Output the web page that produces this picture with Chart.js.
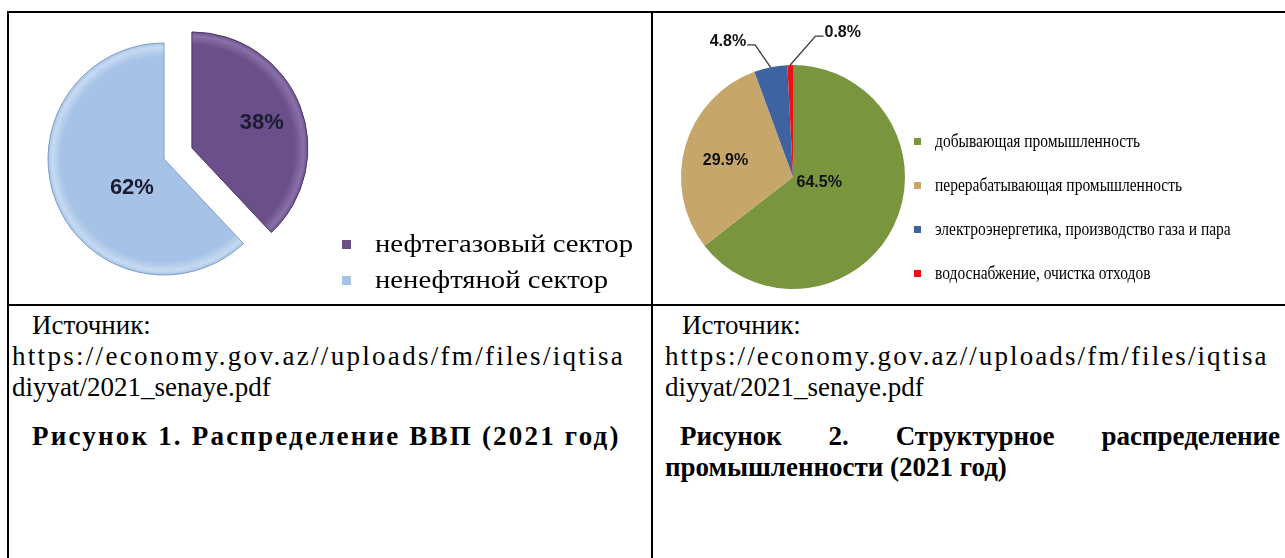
<!DOCTYPE html>
<html lang="ru">
<head>
<meta charset="utf-8">
<script src="https://cdn.jsdelivr.net/npm/chart.js@4.4.1/dist/chart.umd.min.js"></script>
<style>
  body { margin: 0; width: 1285px; height: 558px; background: #fff; position: relative; overflow: hidden;
         font-family: "Liberation Serif", "Times New Roman", serif; color: #000; }
  .ln { position: absolute; background: #000; }
  canvas { position: absolute; }
  .legend { position: absolute; white-space: nowrap; }
  .legend .row { position: relative; }
  .legend .sw { position: absolute; top: 50%; }
  .legend .t { display: inline-block; transform-origin: 0 50%; }
  .txt { position: absolute; font-size: 27px; line-height: 31px; white-space: nowrap; }
  .txt b { display: block; }
  .just { text-align: justify; text-align-last: justify; }
</style>
</head>
<body>

<!-- table grid -->
<div class="ln" style="left:7px;top:11px;width:1290px;height:2px"></div>
<div class="ln" style="left:7px;top:11px;width:2px;height:560px"></div>
<div class="ln" style="left:651px;top:11px;width:2px;height:560px"></div>
<div class="ln" style="left:7px;top:304px;width:1290px;height:2px"></div>

<canvas id="gdpChart" width="642" height="291" style="left:9px;top:13px"></canvas>
<div class="legend" id="gdpLegend" style="left:342px;top:226px;font-size:26px"></div>

<canvas id="indChart" width="632" height="291" style="left:653px;top:13px"></canvas>
<div class="legend" id="indLegend" style="left:914px;top:119px;font-size:19px"></div>

<!-- long lines in the document are stretched letter by letter (justified cell text) -->
<div class="txt" style="left:12px;top:310px;width:630px">
  <div style="padding-left:20px">Источник:</div>
  <div style="letter-spacing:2.3px">https://economy.gov.az//uploads/fm/files/iqtisa</div>
  <div>diyyat/2021_senaye.pdf</div>
  <div style="height:18px"></div>
  <b style="padding-left:20px;letter-spacing:2.2px">Рисунок 1. Распределение ВВП (2021 год)</b>
</div>

<div class="txt" style="left:665px;top:310px;width:615px">
  <div style="padding-left:17px">Источник:</div>
  <div style="letter-spacing:2.1px">https://economy.gov.az//uploads/fm/files/iqtisa</div>
  <div>diyyat/2021_senaye.pdf</div>
  <div style="height:18px"></div>
  <b class="just" style="padding-left:15px">Рисунок 2. Структурное распределение</b>
  <b>промышленности (2021 год)</b>
</div>

<script>
// Рисунок 1 - ВВП
const gdpLabels = ['нефтегазовый сектор', 'ненефтяной сектор'];
const gdpValues = [38, 62];
const gdpColors = ['#6a4f8a', '#a6c2e6'];
const gdpRim = ['#8a70a8', '#c6daf2'];
const gdpEdge = ['#4c3767', '#7f9cc6'];

// Рисунок 2 - промышленность
const indLabels = ['добывающая промышленность', 'перерабатывающая промышленность',
                   'электроэнергетика, производство газа и пара', 'водоснабжение, очистка отходов'];
const indValues = [64.5, 29.9, 4.8, 0.8];
const indColors = ['#79953d', '#c6a66b', '#3d63a0', '#f01010'];

// padding so the pie sits where it sits in the document
function padFor(w, h, cx, cy, size) {
  return { left: cx - size / 2, top: cy - size / 2, right: w - cx - size / 2, bottom: h - cy - size / 2 };
}

// pulls single slices out of the pie (distance in px along the slice middle)
const explode = {
  id: 'explode',
  afterUpdate(chart, args, opts) {
    chart.getDatasetMeta(0).data.forEach((arc, i) => {
      const d = (opts.dist || [])[i] || 0;
      if (!d || arc._exploded) return;
      const base = arc.draw;
      arc.draw = function (ctx, area) {
        const mid = (this.startAngle + this.endAngle) / 2;
        ctx.save();
        ctx.translate(Math.cos(mid) * d, Math.sin(mid) * d);
        base.call(this, ctx, area);
        ctx.restore();
      };
      arc._exploded = true;
    });
  }
};

// percent labels, with leader lines for the small slices
const pctLabels = {
  id: 'pctLabels',
  afterDatasetsDraw(chart, args, opts) {
    const ctx = chart.ctx;
    const meta = chart.getDatasetMeta(0);
    const ds = chart.data.datasets[0];
    const dist = (chart.options.plugins.explode && chart.options.plugins.explode.dist) || [];
    meta.data.forEach((arc, i) => {
      const p = arc.getProps(['x', 'y', 'startAngle', 'endAngle', 'outerRadius'], true);
      const mid = (p.startAngle + p.endAngle) / 2;
      const off = dist[i] || 0;
      const cx = p.x + Math.cos(mid) * off, cy = p.y + Math.sin(mid) * off;
      const lp = opts.place[i];
      const a = mid + lp.shift * Math.PI / 180;
      const lx = cx + Math.cos(a) * lp.r * p.outerRadius;
      const ly = cy + Math.sin(a) * lp.r * p.outerRadius;
      const text = ds.data[i].toFixed(opts.decimals) + '%';
      ctx.save();
      ctx.font = opts.font;
      ctx.fillStyle = opts.color;
      ctx.textAlign = 'center';
      ctx.textBaseline = 'middle';
      ctx.fillText(text, lx, ly);
      if (lp.leader) {
        const w = ctx.measureText(text).width;
        const ex = cx + Math.cos(mid) * p.outerRadius, ey = cy + Math.sin(mid) * p.outerRadius;
        const sx = lx + lp.leader * (w / 2 + 1), sy = ly + 3;
        ctx.strokeStyle = '#3a3a3a';
        ctx.lineWidth = 1.3;
        ctx.beginPath();
        ctx.moveTo(sx, sy);
        ctx.lineTo(sx + lp.leader * 8, sy);
        ctx.lineTo(ex, ey);
        ctx.stroke();
      }
      ctx.restore();
    });
  }
};

// bevel-like rim on the first pie
function rimFill(c) {
  const chart = c.chart, a = chart.chartArea, i = c.dataIndex;
  if (!a) return gdpColors[i];
  const cx = (a.left + a.right) / 2, cy = (a.top + a.bottom) / 2;
  const r = Math.min(a.right - a.left, a.bottom - a.top) / 2;
  const g = chart.ctx.createRadialGradient(cx, cy, 0, cx, cy, r);
  g.addColorStop(0, gdpColors[i]);
  g.addColorStop(0.88, gdpColors[i]);
  g.addColorStop(0.96, gdpRim[i]);
  g.addColorStop(1, gdpColors[i]);
  return g;
}

// legend rows; the first label is stretched to the width it has in the document
function buildLegend(el, labels, colors, sw, indent, rowH, firstWidth) {
  let k = 1;
  labels.forEach((t, i) => {
    const row = document.createElement('div');
    row.className = 'row';
    row.style.height = rowH + 'px';
    row.style.lineHeight = rowH + 'px';
    row.style.paddingLeft = indent + 'px';
    const s = document.createElement('span');
    s.className = 'sw';
    s.style.cssText = `left:0;width:${sw}px;height:${sw}px;margin-top:${-sw / 2}px;background:${colors[i]}`;
    const tx = document.createElement('span');
    tx.className = 't';
    tx.textContent = t;
    row.appendChild(s);
    row.appendChild(tx);
    el.appendChild(row);
    if (i === 0) k = firstWidth / tx.getBoundingClientRect().width;
    tx.style.transform = `scaleX(${k})`;
  });
}
buildLegend(document.getElementById('gdpLegend'), gdpLabels, gdpColors, 9, 33, 36, 258);
buildLegend(document.getElementById('indLegend'), indLabels, indColors, 7, 21, 44, 205);

new Chart(document.getElementById('gdpChart'), {
  type: 'pie',
  data: {
    labels: gdpLabels,
    datasets: [{
      data: gdpValues,
      backgroundColor: rimFill,
      borderColor: gdpEdge,
      borderWidth: 1,
      clip: false
    }]
  },
  options: {
    responsive: false,
    animation: false,
    layout: { padding: padFor(642, 291, 155, 146, 233) },
    plugins: {
      legend: { display: false },
      tooltip: { enabled: false },
      explode: { dist: [30, 0] },
      pctLabels: {
        font: 'bold 22px "Liberation Sans", Arial, sans-serif',
        color: '#1c1c30',
        decimals: 0,
        place: [{ r: 0.64, shift: 2 }, { r: 0.37, shift: -20 }]
      }
    }
  },
  plugins: [explode, pctLabels]
});

new Chart(document.getElementById('indChart'), {
  type: 'pie',
  data: {
    labels: indLabels,
    datasets: [{
      data: indValues,
      backgroundColor: indColors,
      borderWidth: 0,
      clip: false
    }]
  },
  options: {
    responsive: false,
    animation: false,
    layout: { padding: padFor(632, 291, 140, 164, 224) },
    plugins: {
      legend: { display: false },
      tooltip: { enabled: false },
      pctLabels: {
        font: 'bold 16px "Liberation Sans", Arial, sans-serif',
        color: '#111',
        decimals: 1,
        place: [
          { r: 0.24, shift: -13 },
          { r: 0.62, shift: -2.5 },
          { r: 1.34, shift: -14.2, leader: 1 },
          { r: 1.36, shift: 20.5, leader: -1 }
        ]
      }
    }
  },
  plugins: [pctLabels]
});
</script>
</body>
</html>
